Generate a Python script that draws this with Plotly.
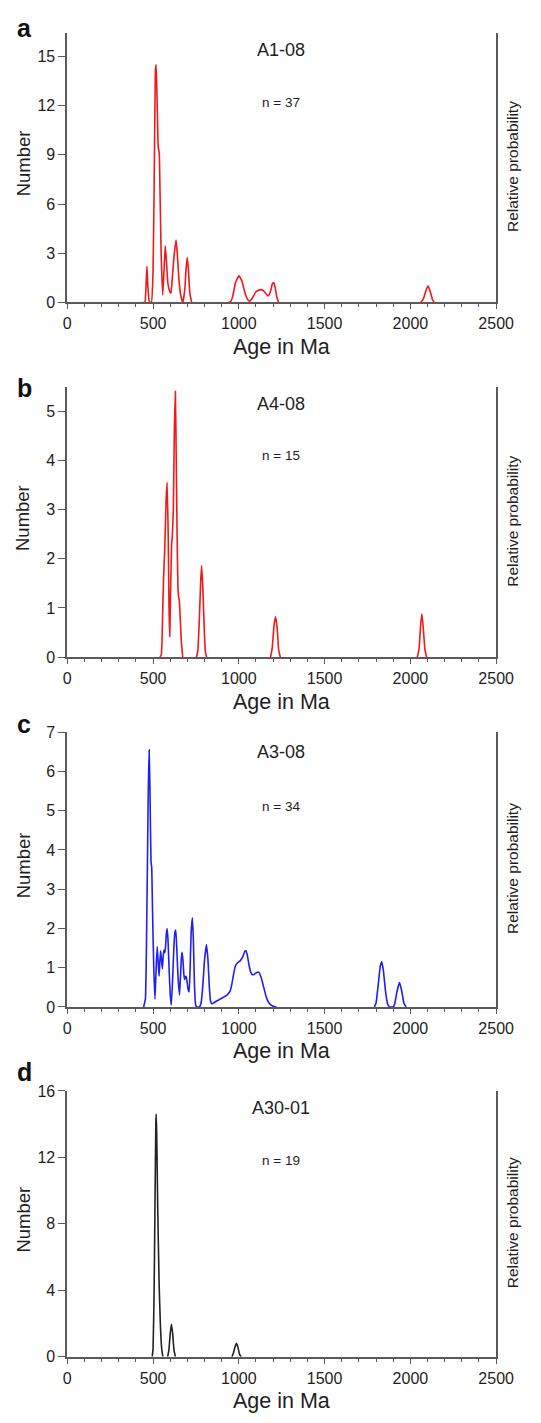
import plotly.graph_objects as go

# Probability-density curves of detrital zircon ages (age in Ma, number).
# None separates the separate age clusters so the zero stretches are not drawn.
age_a = [440, 452, 458, 464, 470, 478, 490, 500, 508, 514, 518, 524, 530, 536, 540, 547, 556,
         563, 571, 578, 586, 596, 604, 612, 622, 634, 641, 650, 660, 673, 685, 692, 699, 706, 714,
         725, None, 940, 952, 965, 980, 1000, 1018, 1035, 1050, 1064, 1080, 1100, 1125, 1145, 1160,
         1172, 1185, 1196, 1204, 1212, 1222, 1232, None, 2060, 2075, 2090, 2103, 2115, 2130, 2140]
num_a = [0, 0, 0.8, 2.2, 0.9, 0.05, 0, 2, 9, 14.2, 14.5, 12, 9.5, 9.1, 7, 3, 0.45,
         1.8, 3.45, 2.5, 1.2, 0.7, 0.55, 1.5, 2.8, 3.8, 3.0, 1.5, 0.5, 0, 0.8, 2.0, 2.75, 2.0, 0.6,
         0, None, 0, 0.05, 0.4, 1.2, 1.62, 1.3, 0.6, 0.2, 0.08, 0.3, 0.65, 0.78, 0.7, 0.5,
         0.4, 0.7, 1.15, 1.2, 0.9, 0.3, 0, None, 0, 0.2, 0.7, 1.0, 0.7, 0.15, 0]

age_b = [540, 548, 556, 561, 568, 576, 582, 588, 593, 597, 602, 608, 612, 618, 624, 630, 635,
         640, 645, 650, 653, 658, 665, 673, None, 752, 760, 770, 777, 783, 790, 798, 805, 812, None,
         1185, 1195, 1205, 1214, 1223, 1232, 1242, None, 2040, 2050, 2060, 2067, 2075, 2085, 2095]
num_b = [0, 0.05, 0.9, 1.6, 2.2, 3.2, 3.55, 2.5, 1.0, 0.42, 1.3, 2.3, 2.45, 3.0, 4.6, 5.4, 4.0,
         2.5, 1.4, 1.2, 1.15, 0.8, 0.3, 0, None, 0, 0.1, 0.8, 1.5, 1.86, 1.4, 0.6, 0.1, 0, None,
         0, 0.2, 0.65, 0.82, 0.6, 0.15, 0, None, 0, 0.15, 0.65, 0.88, 0.6, 0.15, 0]

age_c = [445, 455, 464, 472, 477, 482, 488, 492, 497, 504, 511, 517, 524, 530, 535, 540, 544,
         549, 554, 559, 563, 568, 572, 577, 582, 587, 594, 600, 606, 614, 621, 627, 632, 638, 645,
         654, 660, 665, 669, 674, 679, 684, 688, 692, 697, 704, 710, 716, 722, 729, 735, 741, 748,
         755, 770, 780, 790, 800, 811, 820, 828, 835, 842, 870, 900, 930, 949, 960, 970, 980, 992,
         1009, 1025, 1035, 1042, 1050, 1060, 1070, 1080, 1090, 1105, 1117, 1130, 1145, 1160, 1173,
         1190, 1205, 1220, None, 1790, 1800, 1812, 1825, 1833, 1842, 1855, 1867, 1878, 1900, 1910,
         1922, 1937, 1950, 1962, 1975]
num_c = [0, 0.2, 2.5, 5.5, 6.55, 5.5, 3.7, 3.55, 2.4, 1.0, 0.2, 0.9, 1.54, 1.1, 0.78, 1.2, 1.43,
         1.2, 0.97, 1.3, 1.45, 1.38, 1.5, 1.85, 2.0, 1.7, 0.9, 0.3, 0.05, 0.7, 1.5, 1.9, 1.96, 1.5, 0.8,
         0.3, 0.8, 1.25, 1.39, 1.2, 0.85, 0.7, 0.76, 0.78, 0.68, 0.45, 0.38, 1.0, 1.9, 2.27, 1.7, 0.6,
         0.05, 0, 0, 0.1, 0.55, 1.2, 1.59, 1.2, 0.5, 0.15, 0.08, 0.15, 0.22, 0.3, 0.4, 0.6, 0.85, 1.05,
         1.12, 1.18, 1.3, 1.42, 1.43, 1.3, 1.05, 0.88, 0.82, 0.83, 0.88, 0.88, 0.75, 0.5, 0.25, 0.12,
         0.04, 0.01, 0, None, 0, 0.1, 0.55, 1.05, 1.15, 0.95, 0.4, 0.08, 0, 0, 0.1,
         0.4, 0.62, 0.4, 0.1, 0]

age_d = [495, 500, 506, 511, 516, 518, 521, 527, 535, 543, 550, 557, None, 585, 592, 600, 607,
         614, 622, 630, None, 960, 968, 978, 986, 994, 1004, 1014]
num_d = [0, 0.5, 4, 9, 14, 14.6, 13.5, 9, 4.5, 1.8, 0.5, 0, None, 0, 0.4, 1.4, 1.95,
         1.4, 0.4, 0, None, 0, 0.2, 0.6, 0.8, 0.6, 0.15, 0]

panel_letters = ["a", "b", "c", "d"]
sample_names = ["A1-08", "A4-08", "A3-08", "A30-01"]
sample_counts = [37, 15, 34, 19]
line_colors = ["#f01818", "#f01818", "#1f1fee", "#222222"]
y_max = [16.45, 5.48, 7, 16]
y_dtick = [3, 1, 1, 4]
x_ticks = [0, 500, 1000, 1500, 2000, 2500]

W, H = 541, 1423
FONT = "Arial, 'Liberation Sans', sans-serif"
AXIS_COLOR = "#5a5a5a"
TEXT_COLOR = "#1e1e1e"

# pixel layout of each panel: (top, bottom) of the plotting area
panel_px = [(25, 298), (384, 657), (733, 1011), (1096, 1365)]
left_px, right_px = 66, 513
# vertical pixel positions of the panel letter, sample name and count line
letter_px = [20, 385, 725, 1077]
name_px = [43, 401, 753, 1113]
count_px = [96, 453, 808, 1166]

ages = [age_a, age_b, age_c, age_d]
nums = [num_a, num_b, num_c, num_d]

fig = go.Figure()
annotations = []


def py(v):
    return 1 - v / H


def px(v):
    return v / W


for i in range(4):
    top, bot = panel_px[i]
    mid = (top + bot) / 2
    sfx = "" if i == 0 else str(i + 1)
    fig.add_trace(go.Scatter(
        x=ages[i], y=nums[i], mode="lines",
        line=dict(color=line_colors[i], width=1.6, shape="spline", smoothing=0.4),
        xaxis="x" + sfx, yaxis="y" + sfx, showlegend=False, hoverinfo="x+y",
    ))
    fig.layout["xaxis" + sfx] = dict(
        domain=[px(left_px), px(right_px)], range=[0, 2500], anchor="y" + sfx,
        tickvals=x_ticks, ticks="outside", ticklen=5, tickwidth=1.2, tickcolor=AXIS_COLOR,
        minor=dict(dtick=100, ticks="outside", ticklen=3, tickwidth=1, tickcolor=AXIS_COLOR),
        showline=True, linecolor=AXIS_COLOR, linewidth=1.7, showgrid=False, zeroline=False,
        tickfont=dict(family=FONT, size=16, color=TEXT_COLOR), ticklabelstandoff=1,
    )
    fig.layout["yaxis" + sfx] = dict(
        domain=[py(bot), py(top)], range=[0, y_max[i]], anchor="x" + sfx,
        dtick=y_dtick[i], tick0=0, ticks="outside", ticklen=7, tickwidth=1.2,
        tickcolor=AXIS_COLOR, showline=True, mirror=True, linecolor=AXIS_COLOR,
        linewidth=1.7, showgrid=False, zeroline=False,
        tickfont=dict(family=FONT, size=16, color=TEXT_COLOR),
    )
    # panel letter
    annotations.append(dict(
        text="<b>%s</b>" % panel_letters[i], x=px(11), y=py(letter_px[i]), xref="paper",
        yref="paper", xanchor="left", yanchor="middle", showarrow=False,
        font=dict(family=FONT, size=25, color="#111"),
    ))
    # sample name and count
    annotations.append(dict(
        text=sample_names[i], x=px(289), y=py(name_px[i]), xref="paper", yref="paper",
        xanchor="center", yanchor="middle", showarrow=False,
        font=dict(family=FONT, size=18, color=TEXT_COLOR),
    ))
    annotations.append(dict(
        text="n = %d" % sample_counts[i], x=px(289), y=py(count_px[i]), xref="paper",
        yref="paper", xanchor="center", yanchor="middle", showarrow=False,
        font=dict(family=FONT, size=13.5, color=TEXT_COLOR),
    ))
    # axis titles
    annotations.append(dict(
        text="Age in Ma", x=px(289), y=py(bot + 45), xref="paper", yref="paper",
        xanchor="center", yanchor="middle", showarrow=False,
        font=dict(family=FONT, size=21.5, color=TEXT_COLOR),
    ))
    annotations.append(dict(
        text="Number", x=px(20), y=py(mid - 4.5), xref="paper", yref="paper",
        xanchor="center", yanchor="middle", textangle=-90, showarrow=False,
        font=dict(family=FONT, size=18.5, color=TEXT_COLOR),
    ))
    annotations.append(dict(
        text="Relative probability", x=px(530), y=py(mid - 1), xref="paper",
        yref="paper", xanchor="center", yanchor="middle", textangle=-90, showarrow=False,
        font=dict(family=FONT, size=15.5, color=TEXT_COLOR),
    ))

fig.update_layout(
    width=W, height=H, margin=dict(l=0, r=0, t=0, b=0),
    paper_bgcolor="white", plot_bgcolor="white",
    annotations=annotations, font=dict(family=FONT),
)

fig.write_html("out.html")
